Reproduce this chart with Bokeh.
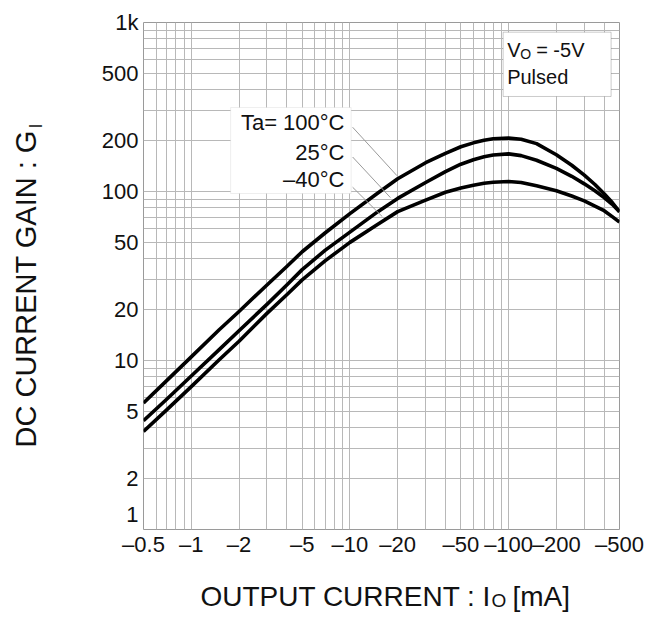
from bokeh.plotting import figure
from bokeh.layouts import row, column
from bokeh.models import Range1d, FixedTicker, Label, BoxAnnotation, ColumnDataSource
from bokeh.embed import file_html
from bokeh.resources import INLINE

# ---------------- data ----------------
current_mA = [0.5, 0.7, 1, 1.5, 2, 3, 4, 5, 7, 10, 15, 20, 30, 40, 50, 60, 70, 80, 100,
              120, 150, 200, 250, 300, 350, 400, 450, 500]
gain_100C = [5.6, 7.6, 10.5, 15.2, 19.5, 28, 36, 44, 57, 74, 98, 119, 148, 168, 184, 194, 201, 205, 207,
             204, 192, 165, 143, 125, 110, 97, 86, 76]
gain_25C = [4.4, 5.9, 8.1, 11.6, 15, 21.5, 28, 34.5, 45, 57.5, 76, 91, 113, 131, 145, 154, 160.5, 164.5, 167,
            163, 153, 137, 123, 111, 101, 92, 84, 76]
gain_m40C = [3.8, 5.1, 7.0, 10.1, 13, 19, 24.5, 30, 39, 50, 64, 76, 89, 99, 105, 109, 112, 113.5, 114.5,
             113, 108, 101, 94, 88, 82, 77, 71, 66]
series_labels = ["Ta= 100°C", "25°C", "–40°C"]

x_tick_values = [0.5, 1, 2, 5, 10, 20, 50, 100, 200, 500]
x_tick_labels = ["–0.5", "–1", "–2", "–5", "–10", "–20", "–50", "–100", "–200", "–500"]
y_tick_values = [1, 2, 5, 10, 20, 50, 100, 200, 500, 1000]
y_tick_labels = ["1", "2", "5", "10", "20", "50", "100", "200", "500", "1k"]

x_title = ["OUTPUT CURRENT : I", "O", "[mA]"]
y_title = ["DC CURRENT GAIN : G", "I"]
cond_text = ["V", "O", "= -5V", "Pulsed"]

# leader lines from legend labels to curves (x0, y0, x1, y1)
leader_x0 = [10.4, 10.4, 10.4]
leader_y0 = [240, 160, 106]
leader_x1 = [19.8, 18.0, 16.0]
leader_y1 = [124, 92, 71]

FONT = "Liberation Sans"
TXT = "#111111"

# layout geometry (px)
LEFT_W = 60
BORDER_L, BORDER_R, BORDER_T, BORDER_B = 83, 39, 22, 45
FRAME_W, FRAME_H = 476, 507
BOTTOM_H = 38

p = figure(frame_width=FRAME_W, frame_height=FRAME_H,
           x_axis_type="log", y_axis_type="log",
           x_range=Range1d(0.5, 500), y_range=Range1d(1, 1000),
           output_backend="svg", toolbar_location=None,
           min_border_left=BORDER_L, min_border_right=BORDER_R,
           min_border_top=BORDER_T, min_border_bottom=BORDER_B,
           background_fill_color="white", border_fill_color="white")

p.outline_line_color = "#9a9a9a"
p.outline_line_width = 1

# grid: every integer multiple inside each decade
grid_x = [m * 10 ** k for k in range(-1, 3) for m in range(1, 10) if 0.5 <= m * 10 ** k <= 500]
grid_y = [m * 10 ** k for k in range(0, 4) for m in range(1, 10) if 1 <= m * 10 ** k <= 1000]
p.xgrid.ticker = FixedTicker(ticks=grid_x, minor_ticks=[])
p.ygrid.ticker = FixedTicker(ticks=grid_y, minor_ticks=[])
p.grid.grid_line_color = "#b8b8b8"
p.grid.grid_line_width = 1

# axes
p.xaxis.ticker = FixedTicker(ticks=x_tick_values, minor_ticks=[])
p.yaxis.ticker = FixedTicker(ticks=y_tick_values, minor_ticks=[])
p.xaxis.major_label_overrides = dict(zip(x_tick_values, x_tick_labels))
y_over = dict(zip(y_tick_values, y_tick_labels))
y_over[1] = y_tick_labels[0] + "\n"   # the bottom label sits a little above its grid line
p.yaxis.major_label_overrides = y_over
for ax in (p.xaxis, p.yaxis):
    ax.axis_line_color = None
    ax.major_tick_line_color = None
    ax.minor_tick_line_color = None
    ax.major_tick_in = 0
    ax.major_tick_out = 0
    ax.minor_tick_in = 0
    ax.minor_tick_out = 0
    ax.major_label_text_font = FONT
    ax.major_label_text_font_size = "22px"
    ax.major_label_text_color = TXT
p.xaxis.major_label_standoff = 2
p.yaxis.major_label_standoff = 5

# curves
for g in (gain_100C, gain_25C, gain_m40C):
    src = ColumnDataSource(dict(x=current_mA, y=g))
    p.line("x", "y", source=src, line_color="black", line_width=3.6, line_join="round")

# legend box with labels
p.add_layout(BoxAnnotation(left=1.77, right=10.18, top=314, bottom=97.3,
                           fill_color="white", fill_alpha=1.0,
                           line_color="#c8c8c8", line_width=1, level="annotation"))
legend_y = [255.4, 170.8, 117.0]
for txt, yy in zip(series_labels, legend_y):
    p.add_layout(Label(x=9.24, y=yy, text=txt, text_align="right", text_baseline="middle",
                       text_font=FONT, text_font_size="22px", text_color=TXT))
p.segment(leader_x0, leader_y0, leader_x1, leader_y1, line_color="#9a9a9a", line_width=1)

# condition box
p.add_layout(BoxAnnotation(left=92.4, right=442.6, top=876.5, bottom=364.9,
                           fill_color="white", fill_alpha=1.0,
                           line_color="#555555", line_width=1, level="annotation"))
p.add_layout(Label(x=97.9, y=687.6, text=cond_text[0], text_align="left", text_baseline="middle",
                   text_font=FONT, text_font_size="20px", text_color=TXT))
p.add_layout(Label(x=97.9, y=687.6, x_offset=13.0, y_offset=-4, text=cond_text[1], text_align="left",
                   text_baseline="middle", text_font=FONT, text_font_size="14px", text_color=TXT))
p.add_layout(Label(x=97.9, y=687.6, x_offset=29, text=cond_text[2], text_align="left",
                   text_baseline="middle", text_font=FONT, text_font_size="20px", text_color=TXT))
p.add_layout(Label(x=97.9, y=475.9, text=cond_text[3], text_align="left", text_baseline="middle",
                   text_font=FONT, text_font_size="20px", text_color=TXT))


def text_panel(fw, fh, bl, br, bt, bb):
    f = figure(frame_width=fw, frame_height=fh, x_range=Range1d(0, fw), y_range=Range1d(0, fh),
               x_axis_location=None, y_axis_location=None,
               output_backend="svg", toolbar_location=None,
               min_border_left=bl, min_border_right=br, min_border_top=bt, min_border_bottom=bb,
               background_fill_color="white", border_fill_color="white")
    f.outline_line_color = None
    f.grid.visible = False
    return f


# x axis title (with subscript); panel frame lines up with the plot frame
bx = text_panel(FRAME_W, BOTTOM_H, BORDER_L, BORDER_R, 0, 0)
bx.add_layout(Label(x=57, y=16.5, text=x_title[0], text_align="left", text_baseline="middle",
                    text_font=FONT, text_font_size="28px", text_color=TXT))
bx.add_layout(Label(x=57, y=16.5, x_offset=291, y_offset=-4.5, text=x_title[1], text_align="left",
                    text_baseline="middle", text_font=FONT, text_font_size="19px", text_color=TXT))
bx.add_layout(Label(x=57, y=16.5, x_offset=312, text=x_title[2], text_align="left",
                    text_baseline="middle", text_font=FONT, text_font_size="28px", text_color=TXT))

# y axis title (rotated, with subscript); panel frame spans the plot frame height
ly = text_panel(LEFT_W, FRAME_H, 0, 0, BORDER_T, BORDER_B + BOTTOM_H)
ly.add_layout(Label(x=25, y=82, text=y_title[0], angle=90, angle_units="deg",
                    text_align="left", text_baseline="middle", text_font=FONT,
                    text_font_size="29px", text_color=TXT))
ly.add_layout(Label(x=25, y=82, x_offset=10, y_offset=319, text=y_title[1],
                    angle=90, angle_units="deg", text_align="left", text_baseline="middle",
                    text_font=FONT, text_font_size="18px", text_color=TXT))

layout = row(ly, column(p, bx))

open("out.html", "w").write(file_html(layout, INLINE))
